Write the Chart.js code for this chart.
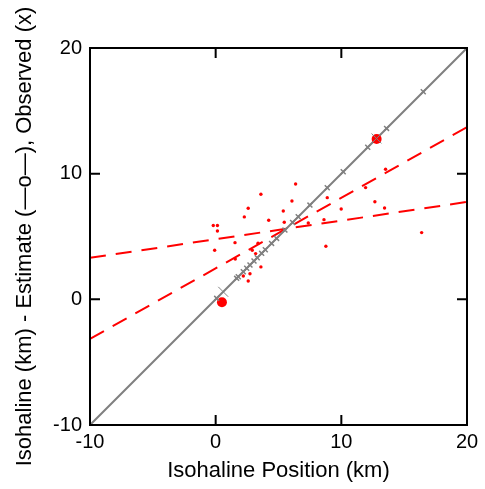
<!DOCTYPE html>
<html>
<head>
<meta charset="utf-8">
<script src="https://cdn.jsdelivr.net/npm/chart.js@4"></script>
<style>
  html, body { margin: 0; padding: 0; background: #fff; }
  #wrap { width: 485px; height: 489px; }
</style>
</head>
<body>
<div id="wrap"><canvas id="isoChart" width="485" height="489"></canvas></div>
<script>
// Axis ticks
const tickVals = [-10, 0, 10, 20];

// Observed isohaline positions (plotted on the 1:1 line)
const obsVals = [0.08, 1.67, 1.8, 2.2, 2.47, 2.73, 3.05, 3.31, 3.66, 3.95, 4.45, 4.85, 5.51, 6.12, 6.57, 7.5, 8.88, 10.15, 12.1, 13.6, 16.52];
// Highlighted observations (large crosses)
const obsBig = [0.6, 12.8];

// Estimates (small red dots)
const estX = [6.36, 3.6, 2.59, 2.28, -0.19, 0.14, 0.14, 6.07, 5.38, 4.22, 5.46, 7.37, 8.62, 1.54, 3.37, -0.08, 2.91, 8.77, 1.56, 3.18, 3.6, 2.2, 2.73, 2.59, 8.88, 11.93, 12.67, 13.44, 9.99, 16.39, 13.52];
const estY = [9.18, 8.36, 7.25, 6.56, 5.88, 5.88, 5.44, 7.83, 7.03, 6.29, 6.13, 6.08, 6.34, 4.51, 4.46, 3.91, 3.91, 4.22, 3.21, 3.64, 2.58, 1.86, 2.04, 1.46, 8.09, 8.89, 7.77, 7.27, 7.19, 5.31, 10.35];
// Highlighted estimates (large red dots)
const bigX = [0.5, 12.81];
const bigY = [-0.23, 12.76];

// Regression lines (dashed)
const fitX = [-10, 20];
const fitSteep = [-3.15, 13.7];
const fitFlat = [3.3, 7.75];

const pts = (xs, ys) => xs.map((x, i) => ({ x: x, y: ys[i] }));

// frame + inward ticks on all four sides
const framePlugin = {
    id: 'frame',
    afterDraw(chart) {
        const { ctx, chartArea: a, scales } = chart;
        ctx.save();
        ctx.strokeStyle = '#000';
        ctx.lineWidth = 2;
        ctx.strokeRect(a.left, a.top, a.right - a.left, a.bottom - a.top);
        ctx.beginPath();
        tickVals.forEach(v => {
            const px = scales.x.getPixelForValue(v);
            ctx.moveTo(px, a.bottom); ctx.lineTo(px, a.bottom - 10);
            ctx.moveTo(px, a.top); ctx.lineTo(px, a.top + 10);
            const py = scales.y.getPixelForValue(v);
            ctx.moveTo(a.left, py); ctx.lineTo(a.left + 10, py);
            ctx.moveTo(a.right, py); ctx.lineTo(a.right - 10, py);
        });
        ctx.stroke();
        ctx.restore();
    }
};

const family = '"Liberation Sans", Arial, sans-serif';
const tickFont = { family: family, size: 20 };
const titleFont = { family: family, size: 22 };

new Chart(document.getElementById('isoChart'), {
    type: 'scatter',
    data: {
        datasets: [
            {
                data: obsVals.map(v => ({ x: v, y: v })),
                pointStyle: 'crossRot', pointRadius: 3.5, borderColor: '#808080',
                borderWidth: 1.5, showLine: false, order: 0
            },
            {
                data: obsBig.map(v => ({ x: v, y: v })),
                pointStyle: 'crossRot', pointRadius: 7, borderColor: '#808080',
                borderWidth: 1, showLine: false, order: 0
            },
            {
                data: pts(estX, estY),
                pointRadius: 1.7, backgroundColor: '#ff0000', borderColor: '#ff0000',
                borderWidth: 0, showLine: false, order: 1
            },
            {
                data: pts(bigX, bigY),
                pointRadius: 5, backgroundColor: '#ff0000', borderColor: '#ff0000',
                borderWidth: 0, showLine: false, order: 1
            },
            {
                data: pts(fitX, fitX),
                showLine: true, pointRadius: 0, borderColor: '#808080', borderWidth: 2, order: 2
            },
            {
                data: pts(fitX, fitSteep),
                showLine: true, pointRadius: 0, borderColor: '#ff0000', borderWidth: 2,
                borderDash: [16, 10], order: 3
            },
            {
                data: pts(fitX, fitFlat),
                showLine: true, pointRadius: 0, borderColor: '#ff0000', borderWidth: 2,
                borderDash: [16, 10], order: 3
            }
        ]
    },
    options: {
        responsive: false,
        animation: false,
        events: [],
        layout: { padding: { top: 48, right: 18, left: 0, bottom: 0 } },
        plugins: { legend: { display: false }, tooltip: { enabled: false } },
        scales: {
            x: {
                type: 'linear', min: -10, max: 20,
                afterBuildTicks: s => { s.ticks = tickVals.map(v => ({ value: v })); },
                afterFit: s => { s.height = 64; },
                grid: { display: false, drawTicks: false },
                border: { display: false },
                ticks: { color: '#000', font: tickFont, padding: 5, maxRotation: 0 },
                title: {
                    display: true, text: 'Isohaline Position (km)', color: '#000',
                    font: titleFont, padding: { top: 0, bottom: 5 }
                }
            },
            y: {
                type: 'linear', min: -10, max: 20,
                afterBuildTicks: s => { s.ticks = tickVals.map(v => ({ value: v })); },
                afterFit: s => { s.width = 90; },
                grid: { display: false, drawTicks: false },
                border: { display: false },
                ticks: { color: '#000', font: tickFont, padding: 8 },
                title: {
                    display: true, text: 'Isohaline (km) - Estimate (\u2014o\u2014), Observed (x)', color: '#000',
                    font: titleFont, padding: { top: 12, bottom: 0 }
                }
            }
        }
    },
    plugins: [framePlugin]
});
</script>
</body>
</html>
